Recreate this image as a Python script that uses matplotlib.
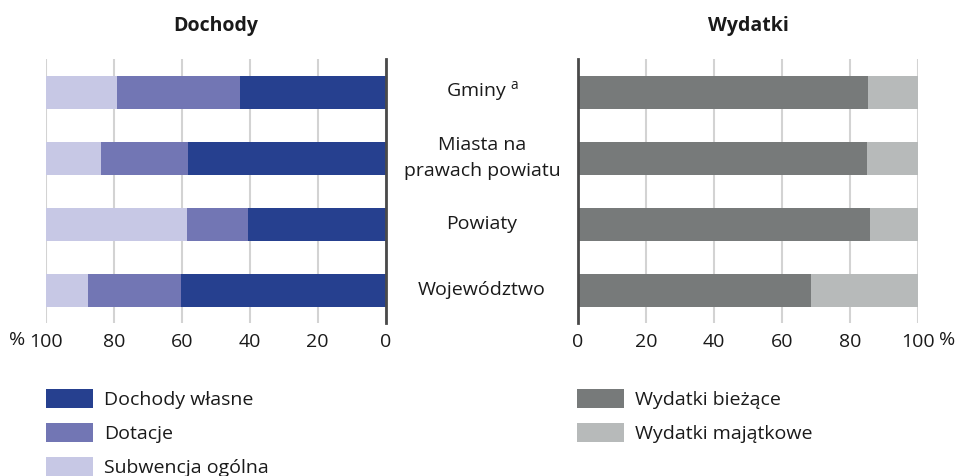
import matplotlib.pyplot as plt
import numpy as np

plt.rcParams['font.family'] = ['Open Sans', 'DejaVu Sans']

# data (percent shares)
categories = ["Gminy $^{\\mathregular{a}}$", "Miasta na\nprawach powiatu", "Powiaty", "Województwo"]
dochody_wlasne = [43.0, 58.2, 40.4, 60.2]
dotacje = [35.9, 25.5, 18.0, 27.3]
subwencja = [21.1, 16.3, 41.6, 12.5]
wydatki_biezace = [85.2, 84.9, 85.9, 68.5]
wydatki_majatkowe = [14.8, 15.1, 14.1, 31.5]
ticks = [0, 20, 40, 60, 80, 100]

c_own, c_dot, c_sub = "#26408F", "#7276B4", "#C7C8E5"
c_cur, c_inv = "#777A7A", "#B7BABA"
grid_c = "#D3D3D3"
spine_c = "#4A4A4A"
txt_c = "#1A1A1A"
fs = 14

W, H = 962, 476
fig = plt.figure(figsize=(W / 100, H / 100), dpi=100)
axL = fig.add_axes([45.7 / W, 1 - 323 / H, 340 / W, 264 / H])
axR = fig.add_axes([578 / W, 1 - 323 / H, 340.3 / W, 264 / H])

y = np.arange(len(categories))
h = 0.5

own = np.array(dochody_wlasne)
dot = np.array(dotacje)
sub = np.array(subwencja)
axL.barh(y, own, height=h, color=c_own, label="Dochody własne")
axL.barh(y, dot, left=own, height=h, color=c_dot, label="Dotacje")
axL.barh(y, sub, left=own + dot, height=h, color=c_sub, label="Subwencja ogólna")
axL.set_xlim(100, 0)

cur = np.array(wydatki_biezace)
inv = np.array(wydatki_majatkowe)
axR.barh(y, cur, height=h, color=c_cur, label="Wydatki bieżące")
axR.barh(y, inv, left=cur, height=h, color=c_inv, label="Wydatki majątkowe")
axR.set_xlim(0, 100)

for ax in (axL, axR):
    ax.set_ylim(len(categories) - 0.5, -0.5)
    ax.set_yticks([])
    ax.set_xticks(ticks)
    ax.set_xticklabels([str(t) for t in ticks])
    ax.tick_params(axis='x', length=0, pad=7.5, labelsize=fs, labelcolor=txt_c)
    ax.grid(axis='x', color=grid_c, linewidth=1.5, zorder=0)
    ax.set_axisbelow(True)
    for s in ax.spines.values():
        s.set_visible(False)

axL.spines['right'].set_visible(True)
axL.spines['right'].set_color(spine_c)
axL.spines['right'].set_linewidth(2)
axR.spines['left'].set_visible(True)
axR.spines['left'].set_color(spine_c)
axR.spines['left'].set_linewidth(2)

# percent signs next to the 100 labels
axL.annotate("%", xy=(100, 0), xycoords=('data', 'axes fraction'), xytext=(-20, -17),
             textcoords='offset pixels', ha='right', va='center', fontsize=fs, color=txt_c)
axR.annotate("%", xy=(100, 0), xycoords=('data', 'axes fraction'), xytext=(21, -17),
             textcoords='offset pixels', ha='left', va='center', fontsize=fs, color=txt_c)

# category labels in the middle
for yi, cat in zip(y, categories):
    axL.annotate(cat, xy=(0, yi), xycoords='data', xytext=(482 - 385.7, 0),
                 textcoords='offset pixels', ha='center', va='center',
                 fontsize=fs, color=txt_c, linespacing=1.55, annotation_clip=False)

fig.text(216 / W, 1 - 26 / H, "Dochody", ha='center', va='center', fontsize=fs,
         fontweight='bold', color=txt_c)
fig.text(748 / W, 1 - 26 / H, "Wydatki", ha='center', va='center', fontsize=fs,
         fontweight='bold', color=txt_c)

leg_kw = dict(loc='upper left', frameon=False, fontsize=fs, borderpad=0, borderaxespad=0,
              handlelength=2.4, handleheight=1.15, handletextpad=0.6, labelspacing=0.7,
              labelcolor=txt_c)
fig.legend(*axL.get_legend_handles_labels(), bbox_to_anchor=(46 / W, 1 - 389 / H), **leg_kw)
fig.legend(*axR.get_legend_handles_labels(), bbox_to_anchor=(577 / W, 1 - 389 / H), **leg_kw)

fig.savefig("out.png", dpi=100)
